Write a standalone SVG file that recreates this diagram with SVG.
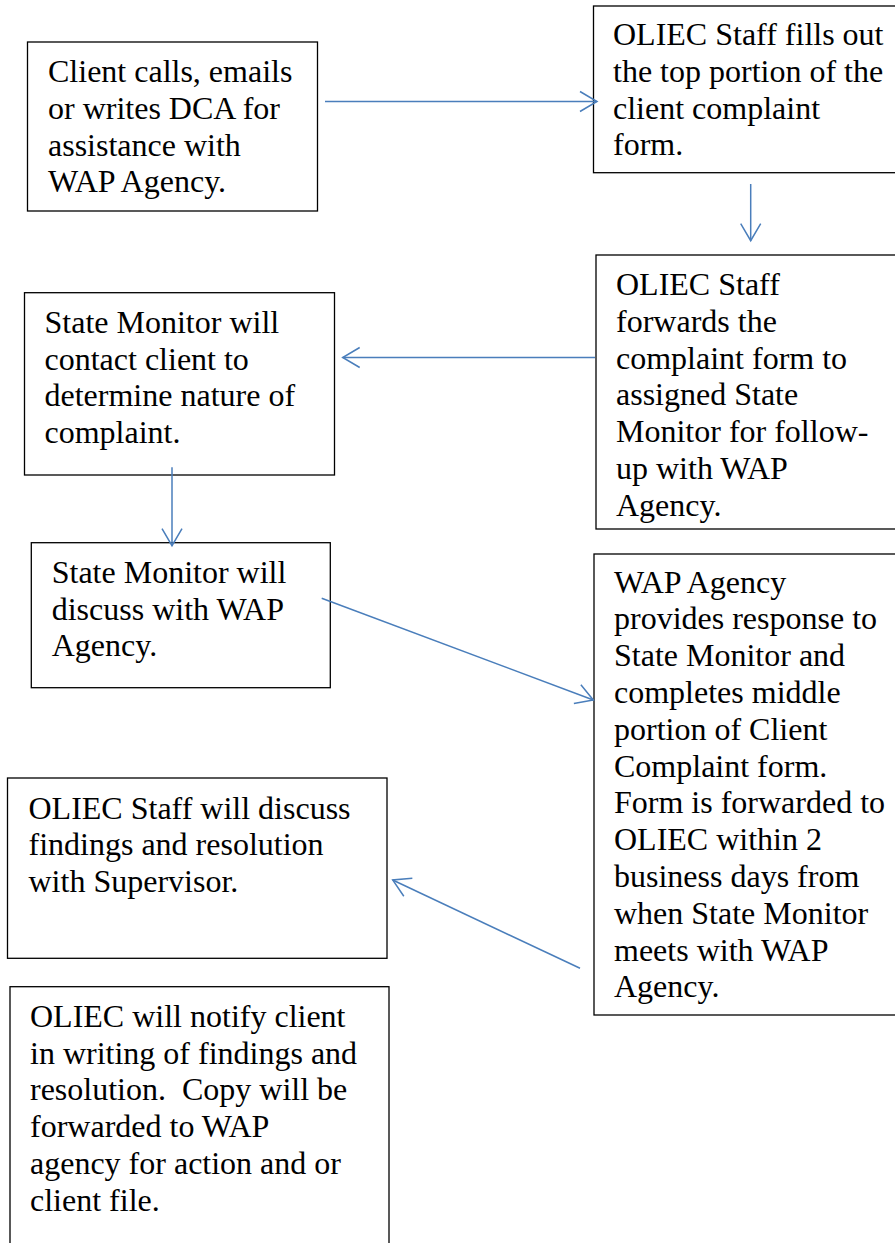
<svg xmlns="http://www.w3.org/2000/svg" width="895" height="1243" viewBox="0 0 895 1243">
<style>
.box{fill:#fff;stroke:#000;stroke-width:1.3}
.t{font-family:"Liberation Serif","Times New Roman",serif;font-size:32px;fill:#000}
.c{fill:none;stroke:#4A7EBB;stroke-width:1.5}
</style>
<defs>
<marker id="ah" markerUnits="userSpaceOnUse" viewBox="-20 -12 22 24" markerWidth="22" markerHeight="24" refX="0" refY="0" orient="auto">
<path d="M-17,-10 L0,0 L-17,10" fill="none" stroke="#4A7EBB" stroke-width="1.5"/>
</marker>
</defs>
<rect width="895" height="1243" fill="#fff"/>
<g id="n1">
<rect class="box" x="27.5" y="42" width="290" height="169"/>
<text class="t" x="48"><tspan x="48" y="82">Client calls, emails</tspan><tspan x="48" y="118.8">or writes DCA for</tspan><tspan x="48" y="155.6">assistance with</tspan><tspan x="48" y="192.4">WAP Agency.</tspan></text>
</g>
<g id="n2">
<rect class="box" x="593.5" y="6" width="320" height="166.7"/>
<text class="t"><tspan x="613" y="45">OLIEC Staff fills out</tspan><tspan x="613" y="81.8">the top portion of the</tspan><tspan x="613" y="118.6">client complaint</tspan><tspan x="613" y="155.4">form.</tspan></text>
</g>
<g id="n3">
<rect class="box" x="596" y="255" width="320" height="274"/>
<text class="t"><tspan x="616" y="295">OLIEC Staff</tspan><tspan x="616" y="331.8">forwards the</tspan><tspan x="616" y="368.6">complaint form to</tspan><tspan x="616" y="405.4">assigned State</tspan><tspan x="616" y="442.2">Monitor for follow-</tspan><tspan x="616" y="479">up with WAP</tspan><tspan x="616" y="515.8">Agency.</tspan></text>
</g>
<g id="n4">
<rect class="box" x="24.5" y="292.7" width="310" height="182.3"/>
<text class="t"><tspan x="44.5" y="332.7">State Monitor will</tspan><tspan x="44.5" y="369.5">contact client to</tspan><tspan x="44.5" y="406.3">determine nature of</tspan><tspan x="44.5" y="443.1">complaint.</tspan></text>
</g>
<g id="n5">
<rect class="box" x="31.3" y="542.7" width="299" height="145"/>
<text class="t"><tspan x="51.7" y="582.7">State Monitor will</tspan><tspan x="51.7" y="619.5">discuss with WAP</tspan><tspan x="51.7" y="656.3">Agency.</tspan></text>
</g>
<g id="n6">
<rect class="box" x="594" y="554" width="320" height="461"/>
<text class="t"><tspan x="614" y="592.5">WAP Agency</tspan><tspan x="614" y="629.3">provides response to</tspan><tspan x="614" y="666.1">State Monitor and</tspan><tspan x="614" y="702.9">completes middle</tspan><tspan x="614" y="739.7">portion of Client</tspan><tspan x="614" y="776.5">Complaint form.</tspan><tspan x="614" y="813.3">Form is forwarded to</tspan><tspan x="614" y="850.1">OLIEC within 2</tspan><tspan x="614" y="886.9">business days from</tspan><tspan x="614" y="923.7">when State Monitor</tspan><tspan x="614" y="960.5">meets with WAP</tspan><tspan x="614" y="997.3">Agency.</tspan></text>
</g>
<g id="n7">
<rect class="box" x="7.5" y="778" width="379.5" height="180.3"/>
<text class="t"><tspan x="28.5" y="818.5">OLIEC Staff will discuss</tspan><tspan x="28.5" y="855.3">findings and resolution</tspan><tspan x="28.5" y="892.1">with Supervisor.</tspan></text>
</g>
<g id="n8">
<rect class="box" x="10" y="986.7" width="379" height="280"/>
<text class="t" xml:space="preserve"><tspan x="30" y="1026.7">OLIEC will notify client</tspan><tspan x="30" y="1063.5">in writing of findings and</tspan><tspan x="30" y="1100.3">resolution.&#160; Copy will be</tspan><tspan x="30" y="1137.1">forwarded to WAP</tspan><tspan x="30" y="1173.9">agency for action and or</tspan><tspan x="30" y="1210.7">client file.</tspan></text>
</g>
<g id="connectors">
<line class="c" x1="325" y1="101.5" x2="597" y2="101.5" marker-end="url(#ah)"/>
<line class="c" x1="750.7" y1="184" x2="750.7" y2="240.7" marker-end="url(#ah)"/>
<line class="c" x1="595" y1="357.5" x2="342.7" y2="357.5" marker-end="url(#ah)"/>
<line class="c" x1="172" y1="467.3" x2="172" y2="545.7" marker-end="url(#ah)"/>
<line class="c" x1="321.7" y1="598.3" x2="593.3" y2="700" marker-end="url(#ah)"/>
<line class="c" x1="580" y1="968.3" x2="392.7" y2="880" marker-end="url(#ah)"/>
</g>
</svg>
